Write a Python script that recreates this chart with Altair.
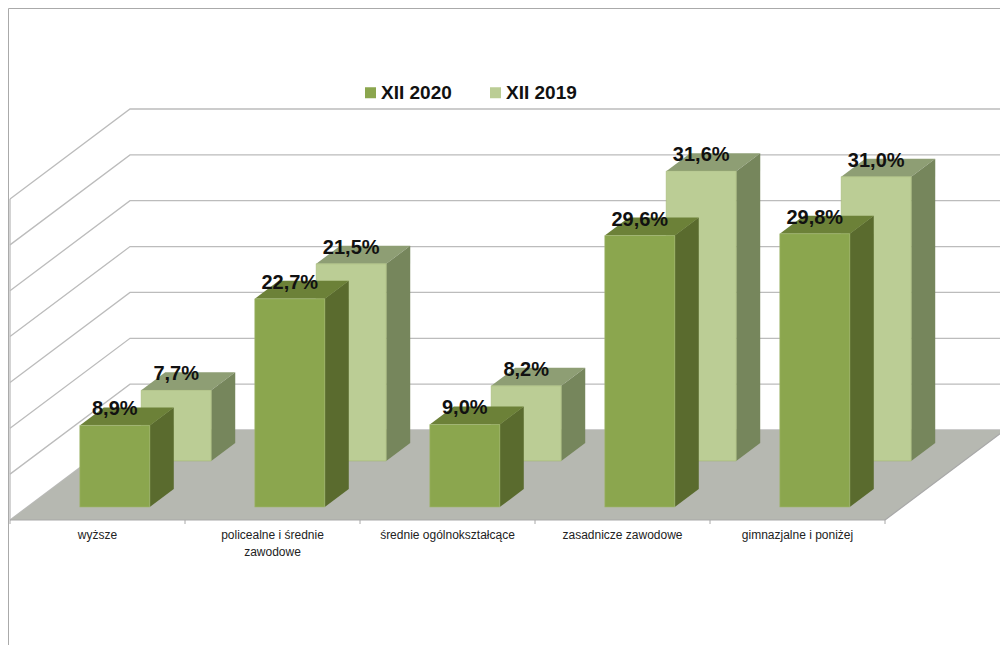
import altair as alt
import pandas as pd

categories = ["wyższe", "policealne i średnie\nzawodowe", "średnie ogólnokształcące",
              "zasadnicze zawodowe", "gimnazjalne i poniżej"]
xii_2020 = [8.9, 22.7, 9.0, 29.6, 29.8]
xii_2019 = [7.7, 21.5, 8.2, 31.6, 31.0]
grid_values = [0, 5, 10, 15, 20, 25, 30, 35]

# pseudo-3D projection of (category slot, depth 0..1, percent) on the picture plane
LEFT, FRONT, SLOT = 10, 520, 175
DEPTH_X, DEPTH_Y = 120, 90
PCT = 321 / 35
N = len(categories)


def px(slot, depth):
    return LEFT + slot * SLOT + depth * DEPTH_X


def py(depth, value):
    return FRONT - depth * DEPTH_Y - value * PCT


series = [("XII 2019", xii_2019, 0.656, "#bbcd95", "#8e9e74", "#76865c"),
          ("XII 2020", xii_2020, 0.144, "#8ba64e", "#6c8138", "#5a6b2e")]
BAR_W, BAR_D = 0.4, 0.2

X = alt.Scale(domain=[8, 1008])
Y = alt.Scale(domain=[657, 8])
x = lambda f="x": alt.X(f"{f}:Q", scale=X, axis=None)
y = lambda f="y": alt.Y(f"{f}:Q", scale=Y, axis=None)

layers = []

# walls
grid = []
for v in grid_values:
    for pos, (s, d) in enumerate([(0, 0), (0, 1), (N, 1)]):
        grid.append({"v": v, "pos": pos, "x": px(s, d), "y": py(d, v)})
layers.append(alt.Chart(pd.DataFrame(grid)).mark_line(color="#bcbcbc", strokeWidth=1.3).encode(
    x=x(), y=y(), detail="v:N", order="pos:Q"))
layers.append(alt.Chart(pd.DataFrame([{"x": px(0, 0), "y": py(0, 0), "y2": py(0, max(grid_values))}]))
              .mark_rule(color="#bcbcbc", strokeWidth=1.3).encode(x=x(), y=y(), y2="y2:Q"))

# floor
floor = pd.DataFrame([{"y": py(d, 0), "x": px(0, d), "x2": px(N, d)} for d in (0, 1)])
layers.append(alt.Chart(floor).mark_area(orient="horizontal", color="#b6b8b1").encode(
    y=y(), x=x(), x2="x2:Q"))
ticks = pd.DataFrame([{"x": px(i, 0), "y": py(0, 0), "y2": py(0, 0) + 4} for i in range(N + 1)])
layers.append(alt.Chart(ticks).mark_rule(color="#a8a8a8", strokeWidth=1).encode(x=x(), y=y(), y2="y2:Q"))
layers.append(alt.Chart(pd.DataFrame([{"x": px(0, 0), "x2": px(N, 0), "y": py(0, 0)}]))
              .mark_rule(color="#a8a8a8", strokeWidth=1.2).encode(x=x(), x2="x2:Q", y=y()))
layers.append(alt.Chart(pd.DataFrame([{"x": px(N, 0), "y": py(0, 0), "d": 0}, {"x": px(N, 1), "y": py(1, 0), "d": 1}]))
              .mark_line(color="#a8a8a8", strokeWidth=1.2).encode(x=x(), y=y()))

# bars, back row first
labels = []
fronts = []
for name, vals, d, face, top, side in series:
    tops, sides = [], []
    for i, v in enumerate(vals):
        xl = px(i + 0.3, d)
        xr = xl + BAR_W * SLOT
        dx, dy = BAR_D * DEPTH_X, BAR_D * DEPTH_Y
        yt, yb = py(d, v), py(d, 0)
        tops += [{"b": i, "y": yt, "x": xl, "x2": xr}, {"b": i, "y": yt - dy, "x": xl + dx, "x2": xr + dx}]
        sides += [{"b": i, "x": xr, "y": yt, "y2": yb}, {"b": i, "x": xr + dx, "y": yt - dy, "y2": yb - dy}]
        fronts.append({"series": name, "x": xl, "x2": xr, "y": yt, "y2": yb})
        labels.append({"x": (xl + xr) / 2, "y": yt - dy + 2, "t": f"{v:.1f}%".replace(".", ",")})
    layers.append(alt.Chart(pd.DataFrame(tops)).mark_area(orient="horizontal", color=top).encode(
        y=y(), x=x(), x2="x2:Q", detail="b:N"))
    layers.append(alt.Chart(pd.DataFrame(sides)).mark_area(orient="vertical", color=side).encode(
        x=x(), y=y(), y2="y2:Q", detail="b:N"))
    layers.append(alt.Chart(pd.DataFrame([f for f in fronts if f["series"] == name])).mark_rect(
        strokeWidth=0.6, stroke="#a3b774").encode(
        x=x(), x2="x2:Q", y=y(), y2="y2:Q",
        color=alt.Color("series:N",
                        scale=alt.Scale(domain=["XII 2020", "XII 2019"], range=["#8ba64e", "#bbcd95"]),
                        legend=alt.Legend(orient="none", legendX=353, legendY=75, direction="horizontal",
                                          title=None, symbolType="square", symbolSize=121, symbolStrokeWidth=0,
                                          labelFont="Liberation Sans", labelFontSize=19, labelFontWeight="bold",
                                          labelColor="#111111", labelOffset=1, columnPadding=34,
                                          symbolOpacity=1, padding=0))))

# data labels
layers.append(alt.Chart(pd.DataFrame(labels)).mark_text(
    font="Liberation Sans", fontSize=20, fontWeight="bold", color="#111111", baseline="middle").encode(
    x=x(), y=y(), text="t:N"))

# category labels
cats = pd.DataFrame([{"x": px(i + 0.5, 0), "y": py(0, 0) + 10, "t": c} for i, c in enumerate(categories)])
layers.append(alt.Chart(cats).mark_text(
    font="Liberation Sans", fontSize=12, color="#222222", baseline="top", lineBreak="\n", lineHeight=17).encode(
    x=x(), y=y(), text="t:N"))

chart = alt.layer(*layers).properties(
    width=1000, height=649, padding=alt.Padding(left=0, top=0, right=-8, bottom=-12),
    autosize=alt.AutoSizeParams(type="none"),
    background="white",
).configure_view(stroke="#aaaaaa", strokeWidth=1)

chart.save("out.html", embed_options={"renderer": "svg", "actions": False})
